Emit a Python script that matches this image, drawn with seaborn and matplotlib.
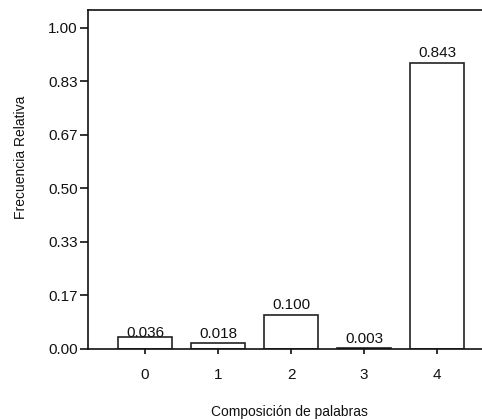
import matplotlib
matplotlib.use("Agg")
import matplotlib.pyplot as plt
import seaborn as sns
import pandas as pd

categories = ["0", "1", "2", "3", "4"]
values = [0.036, 0.018, 0.100, 0.003, 0.843]
value_labels = ["0.036", "0.018", "0.100", "0.003", "0.843"]
ytick_values = [0.0, 0.158, 0.316, 0.474, 0.632, 0.790, 0.948]
ytick_labels = ["0.00", "0.17", "0.33", "0.50", "0.67", "0.83", "1.00"]

sns.set_style("ticks")
plt.rcParams["font.family"] = ["Liberation Sans", "DejaVu Sans"]

df = pd.DataFrame({"cat": categories, "value": values})

fig = plt.figure(figsize=(4.82, 4.20), dpi=100)
ax = fig.add_axes([88 / 482, 71 / 420, 406 / 482, 339 / 420])

sns.barplot(data=df, x="cat", y="value", color="white", edgecolor="#222222",
            linewidth=1.2, width=0.75, saturation=1, ax=ax)

ax.set_xlim(-0.78, 4.78)
ax.set_ylim(0, 1.0)
ax.set_yticks(ytick_values)
ax.set_yticklabels(ytick_labels)

pads = [-2.5, 1.5, 2.5, 1.5, 2.5]
for p, lab, pad in zip(ax.patches, value_labels, pads):
    ax.annotate(lab, (p.get_x() + p.get_width() / 2, p.get_height()),
                xytext=(0, pad), textcoords="offset points",
                ha="center", va="bottom", fontsize=11, color="#111111")

ax.tick_params(axis="y", length=6, width=1.2, pad=1.5, labelsize=11, colors="#111111")
ax.tick_params(axis="x", length=3.5, width=1.2, pad=10.5, labelsize=11, colors="#111111")

for s in ax.spines.values():
    s.set_linewidth(1.2)
    s.set_color("#111111")

ax.set_xlabel("Composición de palabras", fontsize=10, color="#111111")
ax.set_ylabel("Frecuencia Relativa", fontsize=10, color="#111111")
ax.xaxis.set_label_coords(0.495, -0.166)
ax.yaxis.set_label_coords(-0.148, 0.566)

fig.savefig("out.png", dpi=100)
